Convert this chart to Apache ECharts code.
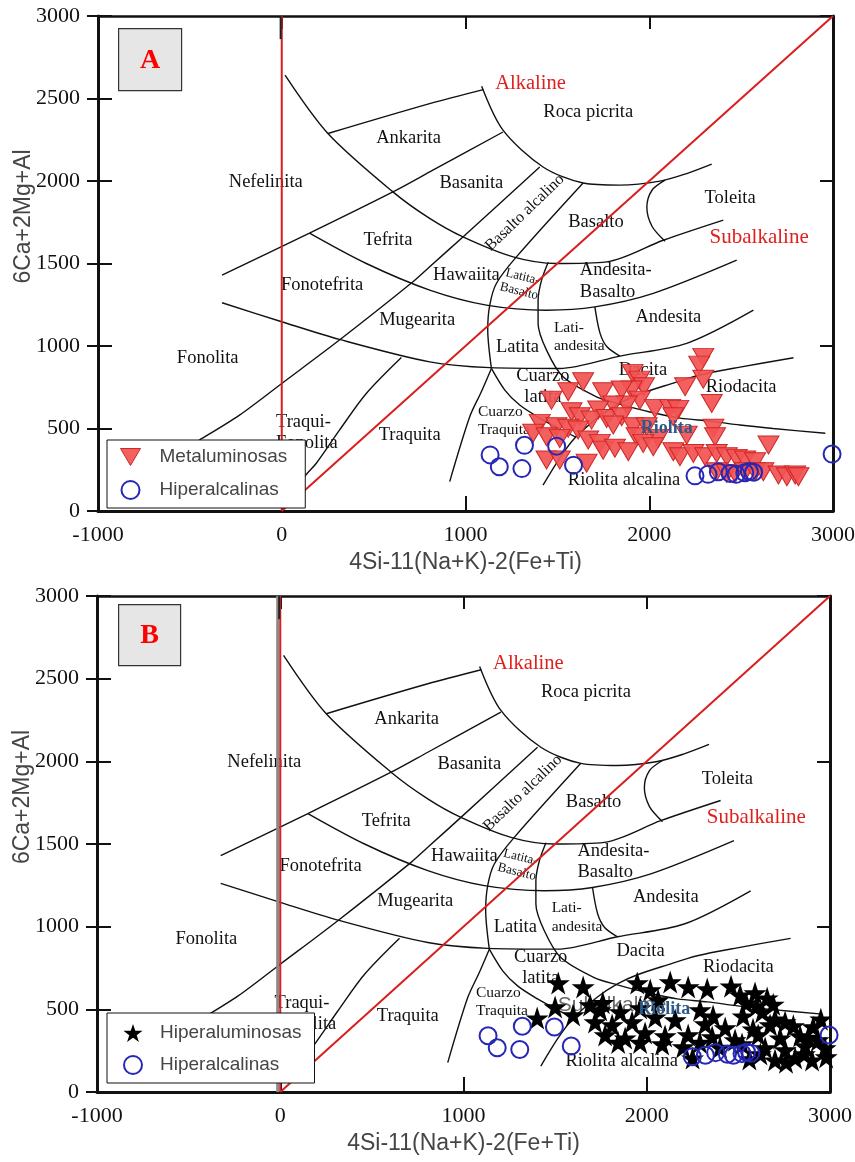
<!DOCTYPE html>
<html>
<head>
<meta charset="utf-8">
<title>Diagrama R1-R2</title>
<script src="https://cdn.jsdelivr.net/npm/echarts/dist/echarts.min.js"></script>
<style>
html, body { margin: 0; padding: 0; background: #fff; }
#chart { width: 855px; height: 1162px; }
</style>
</head>
<body>
<div id="chart"></div>
<script>
// ---- Axis ticks ----
const xTicks = [-1000, 0, 1000, 2000, 3000];
const xTickLabels = ['-1000', '0', '1000', '2000', '3000'];
const yTicks = [0, 500, 1000, 1500, 2000, 2500, 3000];
const yTickLabels = ['0', '500', '1000', '1500', '2000', '2500', '3000'];

// ---- Samples [R1, R2] ----
const metaluminosas = [
  [2294,931],[2272,884],[2195,753],[2294,798],[2340,652],
  [1909,834],[1946,793],[1971,753],[1904,733],
  [1640,783],[1559,723],[1468,672],[1749,723],[1850,733],
  [1949,672],[1877,642],[1804,642],[2031,622],[2113,622],[2158,616],[2131,571],
  [1722,612],[1577,602],[1622,571],[1686,551],[1768,561],[1850,571],
  [1404,531],[1495,511],[1559,501],[1613,491],[1804,521],[1913,511],[1986,511],
  [2349,501],[2358,450],[2204,460],[2049,440],[1931,450],[1668,430],[1731,410],
  [1368,471],[1441,450],[1513,440],
  [1749,369],[1813,380],[1886,359],[1967,410],[2022,389],
  [2131,359],[2167,329],[2240,349],[2304,329],[2367,349],[2422,329],[2476,319],[2522,309],[2576,299],[2649,400],
  [1441,309],[1513,309],[1659,289],
  [2367,238],[2422,228],[2467,228],[2522,238],[2576,238],[2621,238],[2703,218],[2749,208],[2794,218],[2812,208]
];
const hiperalcalinas = [
  [1134,340],[1184,268],[1307,257],[1321,398],[1496,393],[1588,278],
  [2249,213],[2320,222],[2376,238],[2440,228],[2473,222],[2520,232],[2545,240],[2568,235],[2995,345]
];
const hiperaluminosas = [
  [1517,659],[1653,635],[1500,514],[1402,447],[1598,466],[1691,526],[1760,540],
  [1948,659],[2019,617],[2128,665],[2226,635],[2330,623],[2062,556],[2510,586],[2591,599],[2657,568],[2542,538],
  [2460,640],[2600,520],[2690,530],
  [1746,496],[1855,484],[1964,508],[2291,496],[2362,459],[2526,459],[2630,484],
  [1718,423],[1811,405],[1920,423],[2046,453],[2155,435],[2319,411],[2428,387],[2673,405],[2755,423],
  [2580,380],[2700,440],[2800,400],[2950,440],
  [1773,345],[1882,326],[1991,357],[2100,339],[2226,345],[2357,333],[2482,314],[2608,345],[2728,326],[2837,339],[2935,314],
  [2290,300],[2400,270],[2520,290],[2880,330],
  [1844,300],[1964,300],[2084,290],[2199,272],[2646,266],[2755,254],[2864,278],[2973,266],
  [2250,205],[2560,200],[2620,230],[2760,180],[2860,230],
  [2700,193],[2810,206],[2902,193],[2979,212],[2908,393]
];

// ---- Field boundaries (De la Roche R1-R2) ----
const picriteArc = [[1088,2574],[1204,2308],[1422,2085],[1640,1988],[1840,1975],[2058,1999],[2204,2045],[2340,2102]];
const basaniteArc = [[18,2641],[251,2288],[605,1934],[805,1773],[986,1661],[1259,1540],[1495,1500],[1768,1510],[2076,1641],[2403,1763]];
const ankariteLine = [[251,2288],[805,2469],[1097,2554]];
const nephelinite = [[-325,1429],[151,1684],[605,1934],[805,2055],[1204,2297]];
const alkaliBasaltLeft = [[1404,2085],[986,1661],[805,1480],[714,1389],[314,1036],[0,773],[-230,581],[-448,430],[-560,357]];
const alkaliBasaltRight = [[1640,1988],[1277,1540],[1168,1379],[1132,1248],[1121,1100],[1141,864]];
const quartzLatite = [[1141,864],[1214,733],[1295,642],[1404,563],[1513,497],[1600,448]];
const quartzTrachyte = [[1141,864],[1085,720],[1023,571],[914,178]];
const latiandesite = [[1450,1508],[1414,1399],[1395,1278],[1395,1137],[1441,975],[1531,813],[1713,692],[1840,648],[2004,600],[2167,563],[2331,545],[2494,521],[2674,500],[2958,471]];
const andesiteBasalt = [[151,1684],[460,1500],[805,1339],[1114,1248],[1441,1217],[1704,1237],[2022,1319],[2476,1520]];
const latiteBase = [[-325,1262],[0,1147],[314,1040],[805,904],[1132,869],[1513,864],[1840,939],[2204,1016],[2567,1217]];
const andesiteLeft = [[1704,1237],[1732,1078],[1770,995],[1840,939]];
const rhyodacite = [[1422,157],[1513,321],[1595,442],[1731,575],[1840,654],[1949,709],[2113,769],[2276,824],[2494,872],[2785,929]];
const trachyte = [[651,930],[460,712],[314,490],[187,288],[124,208],[60,80]];
const tholeiite = [[2086,2005],[2015,1944],[1987,1841],[2015,1726],[2086,1635]];
const blackCurves = [picriteArc, basaniteArc, ankariteLine, nephelinite, alkaliBasaltLeft, alkaliBasaltRight,
  quartzLatite, quartzTrachyte, latiandesite, andesiteBasalt, latiteBase, andesiteLeft, rhyodacite, trachyte, tholeiite];

// Alkaline / subalkaline dividers
const zeroLine = [[0,0],[0,3000]];
const diagonal = [[0,0],[3000,3000]];
const zeroStub = [[-6,2860],[-6,3000]];
const zeroShadow = [[-14,0],[-14,3000]];

// ---- Field names [text, R1, R2] ----
const fieldNames = [
  ['Nefelinita', -87, 1995], ['Ankarita', 690, 2257], ['Basanita', 1032, 1985],
  ['Roca picrita', 1668, 2419], ['Toleita', 2440, 1894], ['Basalto alcalino', 1323, 1808],
  ['Basalto', 1710, 1752], ['Tefrita', 578, 1641], ['Hawaiita', 1005, 1429],
  ['Latita-\nBasalto', 1301, 1375], ['Andesita-\nBasalto', 1622, 1393], ['Fonotefrita', 220, 1369],
  ['Mugearita', 737, 1157], ['Fonolita', -403, 925], ['Latita', 1283, 995],
  ['Lati-\nandesita', 1481, 1056], ['Andesita', 2104, 1177], ['Cuarzo\nlatita', 1421, 755],
  ['Dacita', 1966, 854], ['Riodacita', 2500, 753], ['Cuarzo\nTraquita', 1068, 545],
  ['Traqui-\nFonolita', -31, 472], ['Traquita', 696, 460], ['Riolita alcalina', 1863, 188],
  ['Alkaline', 1354, 2591], ['Subalkaline', 2598, 1658]
];
const rhyoliteName = [['Riolita', 2095, 501]];
const seriesNoteB = [['Subalkaline', 1811, 526]];

// ---- Styling ----
const SERIF = '"Liberation Serif", "Times New Roman", serif';
const SANS = '"Liberation Sans", Arial, sans-serif';
const INK = '#111';
const RED = '#d81e1e';
const BLUE = '#2727b6';
const TRI = 'path://M0,0 L20,0 L10,17 Z';
const STAR = 'path://M50,0 L61.8,35.1 L98.9,35.1 L69,56.9 L80.3,91.9 L50,70.3 L19.7,91.9 L31,56.9 L1.1,35.1 L38.2,35.1 Z';

const fieldStyle = {
  'Alkaline': { color: '#e0201e', fontSize: 20.5 },
  'Subalkaline': { color: '#e0201e', fontSize: 21 },
  'Basalto alcalino': { fontSize: 16, rotate: 44 },
  'Latita-\nBasalto': { fontSize: 13, rotate: -14, lineHeight: 15 },
  'Andesita-\nBasalto': { align: 'left', lineHeight: 21.5 },
  'Lati-\nandesita': { fontSize: 15.5, align: 'left', lineHeight: 18.5 },
  'Cuarzo\nlatita': { lineHeight: 21 },
  'Cuarzo\nTraquita': { fontSize: 15.5, align: 'left', lineHeight: 18.5 },
  'Traqui-\nFonolita': { align: 'left', lineHeight: 21 }
};

function xAxes(gi) {
  return [{
    gridIndex: gi, type: 'value', position: 'bottom', min: -1000, max: 3000, interval: 1000,
    axisLine: { show: true, onZero: false, lineStyle: { color: INK, width: 3 } },
    axisTick: { show: true, inside: true, length: 15, lineStyle: { color: INK, width: 2 } },
    axisLabel: { show: true, margin: 13, fontFamily: SERIF, fontSize: 22, color: INK,
      formatter: v => { const i = xTicks.indexOf(v); return i < 0 ? '' : xTickLabels[i]; } },
    splitLine: { show: false },
    name: '4Si-11(Na+K)-2(Fe+Ti)', nameLocation: 'middle', nameGap: 40, nameMoveOverlap: false,
    nameTextStyle: { fontFamily: SANS, fontSize: 23, color: '#454545' }
  }, {
    gridIndex: gi, type: 'value', position: 'top', min: -1000, max: 3000, interval: 1000,
    axisLine: { show: true, onZero: false, lineStyle: { color: INK, width: 2.5 } },
    axisTick: { show: true, inside: true, length: 13, lineStyle: { color: INK, width: 2 } },
    axisLabel: { show: false }, splitLine: { show: false }
  }];
}

function yAxes(gi) {
  return [{
    gridIndex: gi, type: 'value', position: 'left', min: 0, max: 3000, interval: 500,
    axisLine: { show: true, onZero: false, lineStyle: { color: INK, width: 3 } },
    axisTick: { show: true, inside: false, length: 11, lineStyle: { color: INK, width: 2 } },
    axisLabel: { show: true, margin: 18, fontFamily: SERIF, fontSize: 22, color: INK,
      formatter: v => { const i = yTicks.indexOf(v); return i < 0 ? '' : yTickLabels[i]; } },
    splitLine: { show: false },
    name: '6Ca+2Mg+Al', nameLocation: 'middle', nameGap: 63, nameRotate: 90, nameMoveOverlap: false,
    nameTextStyle: { fontFamily: SANS, fontSize: 23, color: '#454545', padding: [0, 0, 0, 94] }
  }, {
    gridIndex: gi, type: 'value', position: 'left', min: 0, max: 3000, interval: 500,
    axisLine: { show: false, onZero: false },
    axisTick: { show: true, inside: true, length: 14, lineStyle: { color: INK, width: 2 } },
    axisLabel: { show: false }, splitLine: { show: false }
  }, {
    gridIndex: gi, type: 'value', position: 'right', min: 0, max: 3000, interval: 1000,
    axisLine: { show: true, onZero: false, lineStyle: { color: INK, width: 3 } },
    axisTick: { show: true, inside: true, length: 13, lineStyle: { color: INK, width: 2 } },
    axisLabel: { show: false }, splitLine: { show: false }
  }];
}

function lineSeries(gi, pts, color, width, z, smooth) {
  return {
    type: 'line', xAxisIndex: 2 * gi, yAxisIndex: 3 * gi, data: pts, symbol: 'none',
    smooth: smooth ? 0.3 : false, silent: true, z: z,
    lineStyle: { color: color, width: width, opacity: 1 }, emphasis: { disabled: true }
  };
}

function textSeries(gi, list, z, extra) {
  return {
    type: 'scatter', xAxisIndex: 2 * gi, yAxisIndex: 3 * gi, z: z, silent: true,
    symbolSize: 1, itemStyle: { color: 'rgba(0,0,0,0)', opacity: 1 }, emphasis: { disabled: true },
    label: { show: true, position: 'inside', formatter: '{b}', fontFamily: SERIF, fontSize: 18.5, color: INK, lineHeight: 21, opacity: 1 },
    data: list.map(([name, x, y]) => ({
      name: name, value: [x, y],
      label: Object.assign({}, fieldStyle[name] || {}, extra || {})
    }))
  };
}

function panelSeries(gi) {
  const s = [];
  s.push(textSeries(gi, fieldNames, 1));
  if (gi === 1) s.push(textSeries(gi, seriesNoteB, 1, { fontFamily: SANS, fontSize: 21, color: '#6a6a6a' }));
  blackCurves.forEach(c => s.push(lineSeries(gi, c, INK, 1.4, 2, true)));
  if (gi === 1) s.push(lineSeries(gi, zeroShadow, '#8a8a8a', 3, 2, false));
  s.push(lineSeries(gi, zeroLine, RED, 2, 3, false));
  s.push(lineSeries(gi, zeroStub, '#222', 2, 3, false));
  s.push(lineSeries(gi, diagonal, RED, 2, 3, false));
  const circles = {
    type: 'scatter', name: 'Hiperalcalinas', xAxisIndex: 2 * gi, yAxisIndex: 3 * gi, z: 6,
    data: hiperalcalinas, symbol: 'circle', symbolSize: 17,
    itemStyle: { color: 'rgba(0,0,0,0)', borderColor: BLUE, borderWidth: 2, opacity: 1 }, emphasis: { disabled: true }
  };
  if (gi === 0) {
    s.push({
      type: 'scatter', name: 'Metaluminosas', xAxisIndex: 0, yAxisIndex: 0, z: 5,
      data: metaluminosas, symbol: TRI, symbolSize: [21, 18],
      itemStyle: { color: 'rgba(242,82,82,0.92)', borderColor: '#cf2626', borderWidth: 1, opacity: 1 }, emphasis: { disabled: true }
    });
    s.push(circles);
  } else {
    s.push(circles);
    s.push({
      type: 'scatter', name: 'Hiperaluminosas', xAxisIndex: 2, yAxisIndex: 3, z: 5,
      data: hiperaluminosas, symbol: STAR, symbolSize: 23,
      itemStyle: { color: '#000', opacity: 1 }, emphasis: { disabled: true }
    });
  }
  s.push(textSeries(gi, rhyoliteName, 8, { color: '#2b5a8a', fontWeight: 'bold', fontSize: 18 }));
  return s;
}

function tagBox(left, top, w, h, letter) {
  return {
    type: 'group', left: left, top: top, z: 10,
    children: [
      { type: 'rect', shape: { x: 0, y: 0, width: w, height: h }, style: { fill: '#e6e6e6', stroke: '#333', lineWidth: 1.2 } },
      { type: 'text', x: w / 2, y: h / 2 + 1, style: { text: letter, fill: '#ff0000', font: 'bold 28px ' + SERIF, align: 'center', verticalAlign: 'middle' } }
    ]
  };
}

const legendText = { fontFamily: SANS, fontSize: 19, color: '#454545', lineHeight: 20 };

const option = {
  animation: false,
  backgroundColor: '#fff',
  grid: [
    { left: 98, top: 16, width: 735, height: 495, containLabel: false, outerBoundsMode: 'none' },
    { left: 97, top: 596, width: 733, height: 496, containLabel: false, outerBoundsMode: 'none' }
  ],
  xAxis: [...xAxes(0), ...xAxes(1)],
  yAxis: [...yAxes(0), ...yAxes(1)],
  legend: [{
    left: 107, top: 440, orient: 'vertical', selectedMode: false,
    itemWidth: 20, itemHeight: 18, itemGap: 13, padding: [7, 18, 8, 13],
    backgroundColor: '#fff', borderColor: INK, borderWidth: 1, borderRadius: 0,
    textStyle: Object.assign({ padding: [0, 0, 0, 14] }, legendText),
    data: [
      { name: 'Metaluminosas', icon: TRI, itemStyle: { color: 'rgba(242,82,82,0.92)', borderColor: '#cf2626', borderWidth: 1, opacity: 1 } },
      { name: 'Hiperalcalinas', icon: 'circle', itemStyle: { color: 'rgba(0,0,0,0)', borderColor: BLUE, borderWidth: 2, opacity: 1 } }
    ]
  }, {
    left: 107, top: 1013, orient: 'vertical', selectedMode: false,
    itemWidth: 20, itemHeight: 18, itemGap: 12, padding: [10, 13, 8, 16],
    backgroundColor: '#fff', borderColor: INK, borderWidth: 1, borderRadius: 0,
    textStyle: Object.assign({ padding: [0, 0, 0, 12] }, legendText),
    data: [
      { name: 'Hiperaluminosas', icon: STAR, itemStyle: { color: '#000', opacity: 1 } },
      { name: 'Hiperalcalinas', icon: 'circle', itemStyle: { color: 'rgba(0,0,0,0)', borderColor: BLUE, borderWidth: 2, opacity: 1 } }
    ]
  }],
  graphic: [tagBox(118, 28, 63, 62, 'A'), tagBox(118, 604, 62, 61, 'B')],
  series: [...panelSeries(0), ...panelSeries(1)]
};

const chart = echarts.init(document.getElementById('chart'), null, { renderer: 'canvas' });
chart.setOption(option);
</script>
</body>
</html>
